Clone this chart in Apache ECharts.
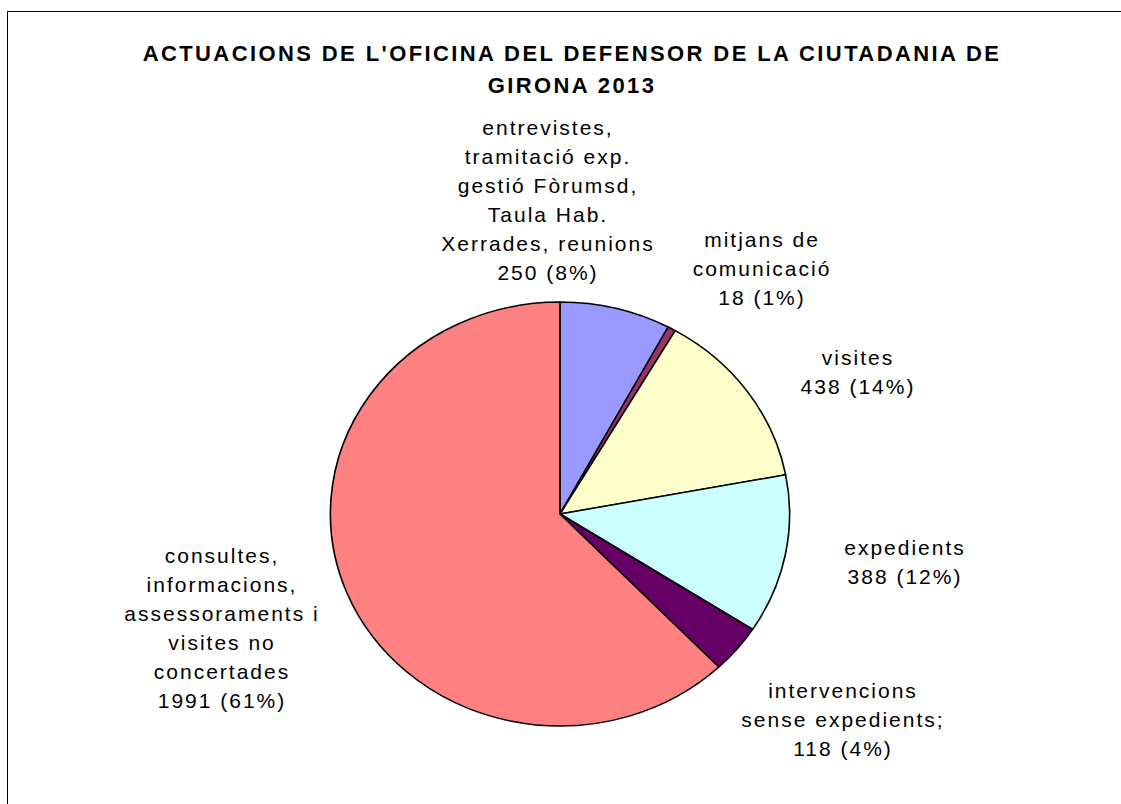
<!DOCTYPE html>
<html>
<head>
<meta charset="utf-8">
<script src="https://cdn.jsdelivr.net/npm/echarts@6/dist/echarts.min.js"></script>
<style>
html, body { margin: 0; padding: 0; background: #fff; overflow: hidden; }
#main { width: 1121px; height: 804px; }
.frame { position: absolute; left: 7px; top: 11px; width: 1200px; height: 900px; border: 1px solid #000; pointer-events: none; }
/* the original was drawn with wide, GDI-like letter spacing */
#main text { letter-spacing: 2px; }
#main text[style*="bold"] { letter-spacing: 2.4px; }
/* the original pie is a little wider than tall */
#main path { transform: scaleX(1.083); transform-origin: 560px 514px; }
</style>
</head>
<body>
<div id="main"></div>
<div class="frame"></div>
<script>
const chartDom = document.getElementById('main');
const myChart = echarts.init(chartDom, null, { renderer: 'svg' });

// slices, clockwise from 12 o'clock
const names = [
	'entrevistes,\ntramitació exp.\ngestió Fòrumsd,\nTaula Hab.\nXerrades, reunions',
	'mitjans de\ncomunicació',
	'visites',
	'expedients',
	'intervencions\nsense expedients;',
	'consultes,\ninformacions,\nassessoraments i\nvisites no\nconcertades'
];
const values = [250, 18, 438, 388, 118, 1991];
const percents = ['8%', '1%', '14%', '12%', '4%', '61%'];
const colors = ['#9999FF', '#993366', '#FFFFCC', '#CCFFFF', '#660066', '#FF8080'];

// label centres
const labelPos = [[548, 200], [762, 268], [858, 372], [905, 562], [843, 719], [222, 628]];

let pieData = [];
for (let i = 0; i < values.length; i++) {
	pieData.push({
		name: names[i],
		value: values[i],
		itemStyle: { color: colors[i] }
	});
}

let option = {
	animation: false,
	title: {
		text: "ACTUACIONS DE L'OFICINA DEL DEFENSOR DE LA CIUTADANIA DE\nGIRONA 2013",
		left: 572,
		top: 37,
		padding: 0,
		textAlign: 'center',
		textStyle: {
			fontFamily: 'Liberation Sans',
			fontWeight: 'bold',
			fontSize: 22,
			lineHeight: 32,
			color: '#000'
		}
	},
	series: [{
		type: 'pie',
		center: [560, 514],
		radius: 212,
		startAngle: 90,
		clockwise: true,
		avoidLabelOverlap: false,
		itemStyle: {
			borderColor: '#000',
			borderWidth: 1.5
		},
		label: {
			show: true,
			position: 'outside',
			formatter: (p) => p.name + '\n' + p.value + ' (' + percents[p.dataIndex] + ')',
			fontFamily: 'Liberation Sans',
			fontSize: 21,
			lineHeight: 29,
			color: '#000',
			align: 'center'
		},
		labelLine: { show: false },
		labelLayout: (params) => {
			const p = labelPos[params.dataIndex];
			return { x: p[0], y: p[1], align: 'center', verticalAlign: 'middle' };
		},
		emphasis: { disabled: true },
		data: pieData
	}]
};

myChart.setOption(option);
</script>
</body>
</html>
